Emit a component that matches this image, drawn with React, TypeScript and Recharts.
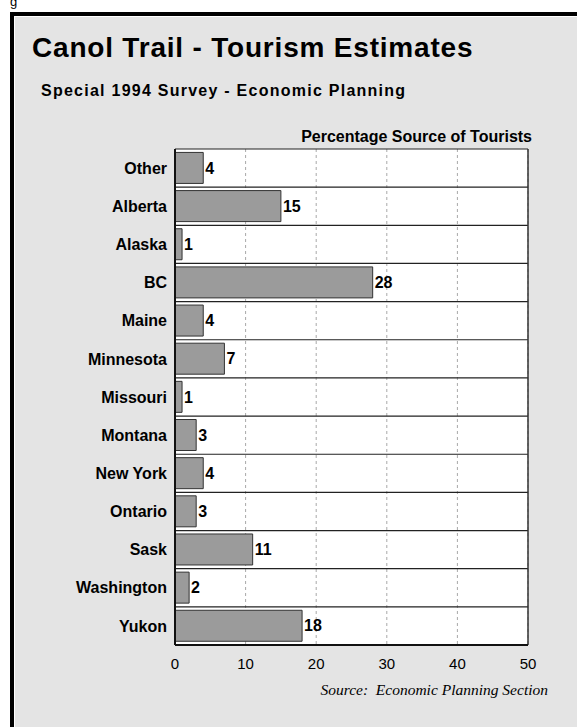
import React from "react";
import {
  Bar,
  BarChart,
  CartesianGrid,
  LabelList,
  ReferenceLine,
  XAxis,
  YAxis,
} from "recharts";

// Survey share of visitors by place of origin (%)
const origins = [
  "Other",
  "Alberta",
  "Alaska",
  "BC",
  "Maine",
  "Minnesota",
  "Missouri",
  "Montana",
  "New York",
  "Ontario",
  "Sask",
  "Washington",
  "Yukon",
];
const shares = [4, 15, 1, 28, 4, 7, 1, 3, 4, 3, 11, 2, 18];
const xTicks = [0, 10, 20, 30, 40, 50];

const data = origins.map((name, i) => ({ name, value: shares[i] }));

const sans = "'Liberation Sans', Arial, Helvetica, sans-serif";
const W = 577;
const H = 727;

export default function App() {
  return (
    <div
      style={{
        position: "absolute",
        left: 0,
        top: 0,
        width: W,
        height: H,
        overflow: "hidden",
        background: "#fff",
      }}
    >
      {/* panel frame + headings */}
      <svg width={W} height={H} style={{ position: "absolute", left: 0, top: 0 }}>
        <text x={10} y={6} fontFamily={sans} fontSize={13} fill="#000">
          g
        </text>
        <rect x={12} y={14} width={640} height={800} fill="#e4e4e4" stroke="#000" strokeWidth={4} />
        <polyline points="14.5,800 14.5,16.5 640,16.5" fill="none" stroke="#fff" strokeWidth={1} />
        <text x={32} y={57} fontFamily={sans} fontSize={28} fontWeight="bold" letterSpacing={0.8} fill="#000">
          Canol Trail - Tourism Estimates
        </text>
        <text x={41} y={96} fontFamily={sans} fontSize={16} fontWeight="bold" letterSpacing={1.25} fill="#000">
          Special 1994 Survey - Economic Planning
        </text>
        <text x={532} y={142} textAnchor="end" fontFamily={sans} fontSize={16} fontWeight="bold" fill="#000">
          Percentage Source of Tourists
        </text>
        <text
          x={548}
          y={695}
          textAnchor="end"
          fontFamily="'Liberation Serif', 'Times New Roman', serif"
          fontStyle="italic"
          fontSize={15.5}
          fill="#000"
          style={{ whiteSpace: "pre" }}
        >
          {"Source:  Economic Planning Section"}
        </text>
      </svg>

      <div style={{ position: "absolute", left: 0, top: 0 }}>
        <BarChart
          width={W}
          height={H}
          data={data}
          layout="vertical"
          barCategoryGap="9%"
          margin={{ top: 149, right: 49, bottom: 52, left: 0 }}
        >
          <CartesianGrid
            horizontal={false}
            fill="#fff"
            stroke="#a8a8a8"
            strokeDasharray="3 3"
          />
          <XAxis
            type="number"
            domain={[0, 50]}
            ticks={xTicks}
            height={30}
            axisLine={{ stroke: "#111", strokeWidth: 2 }}
            tickLine={false}
            tickMargin={7}
            tick={{ fill: "#000", fontSize: 15, fontFamily: sans }}
          />
          <YAxis
            type="category"
            dataKey="name"
            width={175}
            interval={0}
            axisLine={{ stroke: "#111", strokeWidth: 2 }}
            tickLine={false}
            tick={{ fill: "#000", fontSize: 16, fontWeight: "bold", fontFamily: sans }}
          />
          {origins.map((o) => (
            <ReferenceLine key={o} y={o} position="start" stroke="#222" strokeWidth={1.2} />
          ))}
          <ReferenceLine x={50} stroke="#333" strokeWidth={1.5} />
          <Bar
            dataKey="value"
            fill="#9b9b9b"
            stroke="#333"
            strokeWidth={1}
            isAnimationActive={false}
          >
            <LabelList
              dataKey="value"
              position="right"
              offset={2}
              fill="#000"
              fontSize={16}
              fontWeight="bold"
              fontFamily={sans}
            />
          </Bar>
        </BarChart>
      </div>
    </div>
  );
}
